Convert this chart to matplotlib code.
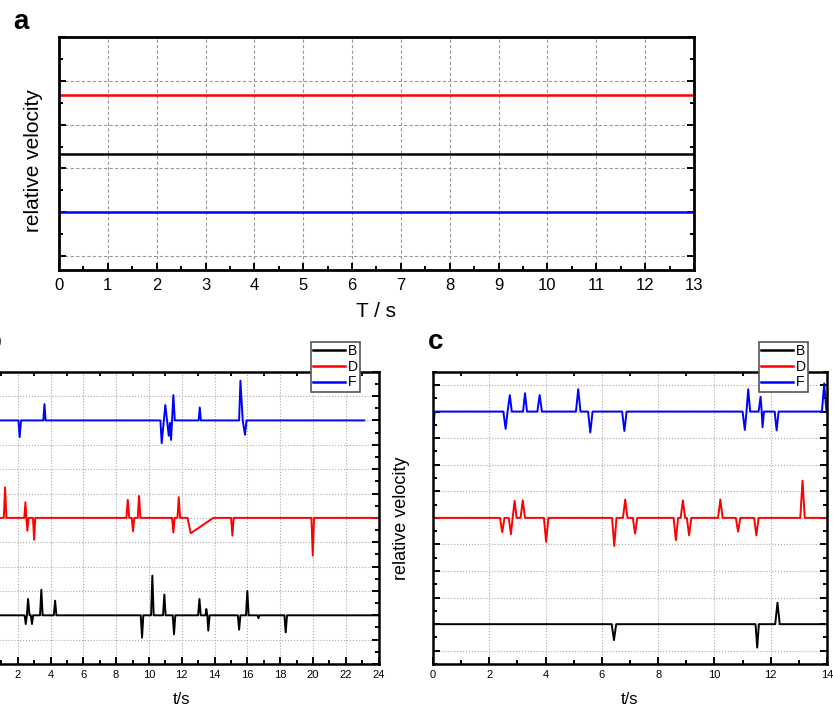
import matplotlib
matplotlib.use('Agg')
import matplotlib.pyplot as plt
from matplotlib.ticker import MultipleLocator

plt.rcParams['font.family'] = ['Liberation Sans', 'DejaVu Sans']

# ---- panel a : constant relative velocity ----
a_t = [0, 13]
a_B = [2.33, 2.33]
a_D = [3.68, 3.68]
a_F = [1.0, 1.0]

# ---- panel b ----
b_F_t = [0, 2.04, 2.12, 2.2, 3.56, 3.63, 3.70, 10.70, 10.78, 11.0, 11.21, 11.28,
         11.35, 11.49, 11.58, 13.03, 13.1, 13.17, 15.5, 15.58, 15.72, 15.86, 15.95, 23.12]
b_F_v = [9, 9, 8.32, 9, 9, 9.67, 9, 9, 8.07, 9.63, 8.37, 8.9,
         8.2, 10.04, 9, 9, 9.53, 9, 9, 10.63, 9, 8.41, 9, 9]

b_D_t = [0, 1.15, 1.23, 1.31, 2.40, 2.47, 2.53, 2.59, 2.66, 2.93, 3.0, 3.07,
         8.63, 8.71, 8.8, 8.95, 9.03, 9.11, 9.32, 9.4, 9.48, 11.41, 11.49, 11.57,
         11.74, 11.82, 11.9, 12.35, 12.55, 13.93, 15.01, 15.09, 15.17, 19.91, 19.99, 20.07, 24]
b_D_v = [5, 5, 6.25, 5, 5, 5.64, 5, 4.47, 5, 5, 4.1, 5,
         5, 5.74, 5, 5, 4.45, 5, 5, 5.9, 5, 5, 4.4, 5,
         5, 5.85, 5, 5, 4.37, 5, 5, 4.27, 5, 5, 3.45, 5, 5]

b_B_t = [0, 2.42, 2.49, 2.56, 2.63, 2.72, 2.8, 2.87, 2.94, 3.36, 3.44, 3.52,
         4.2, 4.28, 4.36, 9.5, 9.58, 9.66, 10.13, 10.21, 10.29, 10.86, 10.94, 11.02,
         11.45, 11.53, 11.61, 13.0, 13.08, 13.16, 13.45, 13.5, 13.56, 13.62, 13.7,
         15.42, 15.5, 15.58, 15.92, 16.0, 16.08, 16.62, 16.68, 16.74, 18.26, 18.34, 18.42, 24]
b_B_v = [1, 1, 0.64, 1, 1.67, 1, 1, 0.64, 1, 1, 2.05, 1,
         1, 1.6, 1, 1, 0.08, 1, 1, 2.63, 1, 1, 1.85, 1,
         1, 0.22, 1, 1, 1.67, 1, 1, 1.26, 1, 0.37, 1,
         1, 0.41, 1, 1, 2.0, 1, 1, 0.88, 1, 1, 0.3, 1, 1]

# ---- panel c ----
c_F_t = [0, 0.06, 2.5, 2.58, 2.65, 2.73, 2.8, 3.2, 3.27, 3.34, 3.71, 3.79, 3.87,
         5.08, 5.16, 5.24, 5.51, 5.59, 5.67, 6.72, 6.8, 6.88, 11.0, 11.08, 11.14,
         11.2, 11.27, 11.57, 11.64, 11.68, 11.71, 11.76, 12.14, 12.21, 12.28,
         13.82, 13.9, 13.98, 14]
c_F_v = [8.12, 9, 9, 8.35, 9, 9.62, 9, 9, 9.69, 9, 9, 9.62, 9,
         9, 9.84, 9, 9, 8.21, 9, 9, 8.27, 9, 9, 8.31, 9,
         9.84, 9, 9, 9.56, 9, 8.41, 9, 9, 8.29, 9,
         9, 10.06, 9, 9]

c_D_t = [0, 2.38, 2.46, 2.54, 2.69, 2.77, 2.83, 2.9, 2.97, 3.11, 3.19, 3.27,
         3.94, 4.02, 4.1, 6.36, 6.44, 6.52, 6.75, 6.83, 6.91, 7.1, 7.18, 7.26,
         8.55, 8.63, 8.71, 8.8, 8.88, 8.96, 9.02, 9.1, 9.18, 10.13, 10.21, 10.29,
         10.76, 10.84, 10.92, 11.41, 11.49, 11.57, 13.05, 13.13, 13.21, 14]
c_D_v = [5, 5, 4.46, 5, 5, 4.39, 5, 5.64, 5, 5, 5.66, 5,
         5, 4.1, 5, 5, 3.94, 5, 5, 5.69, 5, 5, 4.41, 5,
         5, 4.16, 5, 5, 5.66, 5, 5, 4.34, 5, 5, 5.69, 5,
         5, 4.48, 5, 5, 4.34, 5, 5, 6.4, 5, 5]

c_B_t = [0, 6.35, 6.43, 6.51, 11.46, 11.52, 11.58, 12.16, 12.24, 12.32, 14]
c_B_v = [1, 1, 0.4, 1, 1, 0.12, 1, 1, 1.81, 1, 1]

labels = ['B', 'D', 'F']
colors = ['#000000', '#ff0000', '#0000ff']

fig = plt.figure(figsize=(8.33, 7.08), dpi=100)


def style_axes(ax, lw_spine=1.8):
    for s in ax.spines.values():
        s.set_linewidth(lw_spine)
    ax.tick_params(which='both', direction='in', width=1.4, labelleft=False)
    ax.tick_params(which='major', length=5)
    ax.tick_params(which='minor', length=3)


# panel a
ax_a = fig.add_axes([0.0708, 0.6186, 0.7623, 0.3291])
ax_a.plot(a_t, a_B, color=colors[0], lw=1.8)
ax_a.plot(a_t, a_D, color=colors[1], lw=1.8)
ax_a.plot(a_t, a_F, color=colors[2], lw=1.8)
ax_a.set_xlim(0, 13)
ax_a.set_ylim(-0.32, 5.0)
ax_a.xaxis.set_major_locator(MultipleLocator(1))
ax_a.xaxis.set_minor_locator(MultipleLocator(0.5))
ax_a.yaxis.set_major_locator(MultipleLocator(1))
ax_a.yaxis.set_minor_locator(MultipleLocator(0.5))
style_axes(ax_a, 2.0)
ax_a.tick_params(which='both', right=True, top=False, labelsize=12, pad=6)
ax_a.grid(True, which='major', color='#999999', ls=(0, (3, 2)), lw=0.8)
ax_a.set_xlabel('T / s', fontsize=15)
ax_a.xaxis.set_label_coords(0.5, -0.137)
ax_a.set_ylabel('relative velocity', fontsize=15)
ax_a.yaxis.set_label_coords(-0.025, 0.47)
fig.text(20.5 / 833, 1 - 22 / 708, 'a', fontsize=20, fontweight='bold', ha='center', va='center')


def panel(rect, xmax, ymin, ymax, series, legend_xy, letter, letter_xy, ylabel=True):
    ax = fig.add_axes(rect)
    for (t, v), lab, col in zip(series, labels, colors):
        ax.plot(t, v, color=col, lw=1.4, label=lab)
    ax.set_xlim(0, xmax)
    ax.set_ylim(ymin, ymax)
    ax.xaxis.set_major_locator(MultipleLocator(2))
    ax.xaxis.set_minor_locator(MultipleLocator(1))
    ax.yaxis.set_major_locator(MultipleLocator(1))
    ax.yaxis.set_minor_locator(MultipleLocator(0.5))
    style_axes(ax)
    ax.tick_params(which='both', right=True, labelsize=8, pad=4)
    ax.tick_params(which='major', top=False)
    ax.tick_params(which='minor', top=True)
    ax.grid(True, which='major', color='#aaaaaa', ls=':', lw=0.8)
    ax.set_xlabel('t/s', fontsize=12)
    ax.xaxis.set_label_coords(0.5, -0.097)
    if ylabel:
        ax.set_ylabel('relative velocity', fontsize=13)
        ax.yaxis.set_label_coords(-0.058, 0.5)
    leg = ax.legend(loc='upper left', bbox_to_anchor=legend_xy, bbox_transform=fig.transFigure,
                    fontsize=10, handlelength=2.3, handletextpad=0.2, borderpad=0.15,
                    borderaxespad=0, labelspacing=0.12, fancybox=False, framealpha=1)
    leg.get_frame().set_edgecolor('#555555')
    leg.get_frame().set_linewidth(1.2)
    for line in leg.get_lines():
        line.set_linewidth(1.8)
    fig.text(letter_xy[0] / 833, 1 - letter_xy[1] / 708, letter, fontsize=20,
             fontweight='bold', ha='center', va='center')
    return ax


# panel b is cut at the left edge of the figure, as in the original
ax_b = panel([-0.0181, 0.0621, 0.4725, 0.4129], 24, -1, 11,
             [(b_B_t, b_B_v), (b_D_t, b_D_v), (b_F_t, b_F_v)],
             (311 / 833, 1 - 342 / 708), 'b', (-7, 342), ylabel=False)
ax_c = panel([0.5198, 0.0621, 0.4730, 0.4129], 14, -0.5, 10.5,
             [(c_B_t, c_B_v), (c_D_t, c_D_v), (c_F_t, c_F_v)],
             (759 / 833, 1 - 342 / 708), 'c', (436, 342))

fig.savefig('out.png', dpi=100)
